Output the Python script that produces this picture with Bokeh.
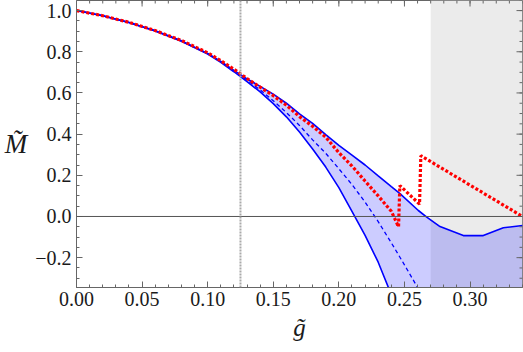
import numpy as np
from bokeh.plotting import figure
from bokeh.models import Range1d, FixedTicker, Span, BoxAnnotation
from bokeh.embed import file_html
from bokeh.resources import INLINE

# ---------------- data ----------------
# red dotted curve
red_g = [0.0, 0.02, 0.04, 0.06, 0.08, 0.10, 0.11, 0.12, 0.13, 0.14, 0.15, 0.16, 0.17,
         0.18, 0.19, 0.20, 0.21, 0.22, 0.23, 0.24, 0.2455, 0.2465, 0.2615, 0.2625, 0.34]
red_m = [1.0, 0.975, 0.943, 0.903, 0.855, 0.795, 0.757, 0.715, 0.670, 0.628, 0.587, 0.540, 0.485,
         0.438, 0.385, 0.310, 0.245, 0.172, 0.100, 0.025, -0.050, 0.150, 0.060, 0.295, 0.0]

# upper edge of the blue band
up_g = [0.0, 0.02, 0.04, 0.06, 0.08, 0.10, 0.11, 0.12, 0.13, 0.14, 0.15, 0.16, 0.17, 0.18,
        0.19, 0.20, 0.21, 0.22, 0.23, 0.24, 0.2466, 0.2606, 0.267, 0.2771, 0.2949, 0.3101,
        0.3254, 0.34]
up_m = [1.0, 0.975, 0.942, 0.902, 0.853, 0.792, 0.753, 0.710, 0.668, 0.632, 0.594, 0.550,
        0.498, 0.452, 0.398, 0.345, 0.298, 0.250, 0.197, 0.145, 0.111, 0.029, -0.003, -0.049,
        -0.093, -0.093, -0.055, -0.044]

# lower edge of the blue band
lo_g = [0.0, 0.02, 0.04, 0.06, 0.08, 0.10, 0.11, 0.12, 0.13, 0.14, 0.15, 0.16, 0.17, 0.18,
        0.19, 0.20, 0.21, 0.22, 0.23, 0.24]
lo_m = [1.0, 0.975, 0.942, 0.901, 0.851, 0.789, 0.749, 0.703, 0.655, 0.605, 0.548, 0.484,
        0.410, 0.328, 0.240, 0.140, 0.025, -0.092, -0.222, -0.380]

# dashed central curve
mid_g = [0.0, 0.02, 0.04, 0.06, 0.08, 0.10, 0.11, 0.12, 0.13, 0.14, 0.15, 0.16, 0.17, 0.18,
         0.19, 0.20, 0.21, 0.22, 0.23, 0.24, 0.25, 0.26, 0.265]
mid_m = [1.0, 0.975, 0.942, 0.902, 0.852, 0.791, 0.751, 0.707, 0.662, 0.615, 0.562, 0.505,
         0.442, 0.372, 0.307, 0.232, 0.155, 0.070, -0.025, -0.128, -0.235, -0.345, -0.400]

threshold_g = 0.125      # vertical dotted line
shaded_from = 0.27       # grey region starts here

x_ticks = [0.0, 0.05, 0.10, 0.15, 0.20, 0.25, 0.30]
x_tick_labels = ["0.00", "0.05", "0.10", "0.15", "0.20", "0.25", "0.30"]
y_ticks = [-0.2, 0.0, 0.2, 0.4, 0.6, 0.8, 1.0]
y_tick_labels = ["\u22120.2", "0.0", "0.2", "0.4", "0.6", "0.8", "1.0"]

X_MIN, X_MAX = 0.0, 0.34
Y_MIN, Y_MAX = -0.345, 1.049

SERIF = "Liberation Serif"
FRAME_W, FRAME_H = 446, 287

# ---------------- figure ----------------
p = figure(width=523, height=352,
           x_range=Range1d(X_MIN, X_MAX), y_range=Range1d(Y_MIN, Y_MAX),
           output_backend="svg", toolbar_location=None,
           min_border_left=76, min_border_right=1, min_border_top=0, min_border_bottom=65)
p.background_fill_color = "white"
p.border_fill_color = "white"
p.outline_line_color = "#666666"
p.xgrid.visible = False
p.ygrid.visible = False

x_minor = [float(v) for v in np.round(np.arange(0.0, 0.3401, 0.01), 3)]
y_minor = [float(v) for v in np.round(np.arange(-0.35, 1.0501, 0.05), 3)]


def style_axis(ax):
    ax.axis_line_color = "#666666"
    ax.major_tick_line_color = "#666666"
    ax.minor_tick_line_color = "#666666"
    ax.major_tick_in = 6
    ax.major_tick_out = 0
    ax.minor_tick_in = 3
    ax.minor_tick_out = 0
    ax.major_label_text_font = SERIF
    ax.major_label_text_color = "#1a1a1a"
    ax.major_label_text_font_size = "20px"


xb = p.xaxis[0]
xb.ticker = FixedTicker(ticks=x_ticks, minor_ticks=x_minor)
xb.major_label_overrides = {t: l for t, l in zip(x_ticks, x_tick_labels)}
style_axis(xb)
xb.major_label_standoff = 4
xb.axis_label = "g\u0303"
xb.axis_label_text_font = SERIF
xb.axis_label_text_font_style = "italic"
xb.axis_label_text_font_size = "25px"
xb.axis_label_text_color = "#1a1a1a"
xb.axis_label_standoff = 5

yl = p.yaxis[0]
yl.ticker = FixedTicker(ticks=y_ticks, minor_ticks=y_minor)
yl.major_label_overrides = {t: l for t, l in zip(y_ticks, y_tick_labels)}
style_axis(yl)
yl.major_label_standoff = 5
yl.axis_label = "M\u0303"
yl.axis_label_text_font = SERIF
yl.axis_label_text_font_style = "italic"
yl.axis_label_text_font_size = "27px"
yl.axis_label_text_color = "#1a1a1a"
yl.axis_label_standoff = 5
try:
    yl.axis_label_orientation = "horizontal"
except Exception:
    pass

# grey shaded region
p.add_layout(BoxAnnotation(left=shaded_from, fill_color="#ebebeb", fill_alpha=1.0,
                           line_alpha=0, level="underlay"))

# blue band
band_x = up_g + [up_g[-1]] + lo_g[::-1]
band_y = up_m + [lo_m[-1]] + lo_m[::-1]
p.patch(band_x, band_y, fill_color="#0000ff", fill_alpha=0.2, line_alpha=0)

p.line(up_g, up_m, line_color="#0000ff", line_width=1.6)
p.line(lo_g, lo_m, line_color="#0000ff", line_width=1.6)
p.line(mid_g, mid_m, line_color="#0000ff", line_width=1.3, line_dash="4 3")
p.line(red_g, red_m, line_color="#ff0000", line_width=3.2, line_dash="3 2")

p.add_layout(Span(location=0.0, dimension="width", line_color="#555555", line_width=1))
p.add_layout(Span(location=threshold_g, dimension="height", line_color="#aaaaaa",
                  line_width=2, line_dash="2 1"))

# inward ticks on the top and right frame edges
px_x = (X_MAX - X_MIN) / FRAME_W
px_y = (Y_MAX - Y_MIN) / FRAME_H
top_x = x_ticks + x_minor
top_len = [6 * px_y] * len(x_ticks) + [3 * px_y] * len(x_minor)
p.segment(x0=top_x, y0=[Y_MAX] * len(top_x), x1=top_x,
          y1=[Y_MAX - l for l in top_len], line_color="#666666", line_width=1)
right_y = y_ticks + y_minor
right_len = [6 * px_x] * len(y_ticks) + [3 * px_x] * len(y_minor)
p.segment(x0=[X_MAX] * len(right_y), y0=right_y, x1=[X_MAX - l for l in right_len],
          y1=right_y, line_color="#666666", line_width=1)

open("out.html", "w").write(file_html(p, INLINE))
